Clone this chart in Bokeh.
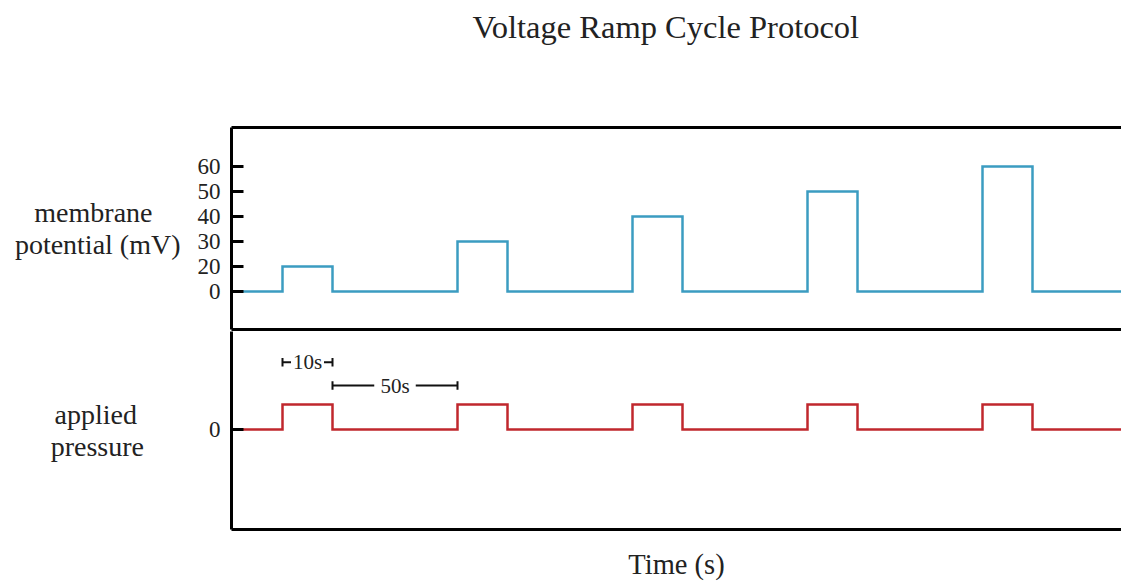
from bokeh.plotting import figure
from bokeh.models import Label, LinearAxis, FixedTicker, Range1d
from bokeh.layouts import column
from bokeh.embed import file_html
from bokeh.resources import INLINE

# ---------------- data (schematic time units) ----------
pulse_start = [10, 45, 80, 115, 150]
pulse_end = [20, 55, 90, 125, 160]
voltage_mV = [20, 30, 40, 50, 60]          # membrane potential step heights
pressure_level = [1, 1, 1, 1, 1]           # applied pressure step (arbitrary units)
t_start, t_end = -0.2, 177.8

# broken (schematic) potential axis: 0, 20, 30, 40, 50, 60 evenly spaced
v_tick_values = [0, 20, 30, 40, 50, 60]

SERIF = "Liberation Serif"
BLUE = "#3b9cc1"
RED = "#c0272d"
TXT = "#222222"
NB = "\u00a0"

def v_pos(v):
    return 0.0 if v == 0 else (v - 10) / 10.0

def step_series(starts, ends, levels, base):
    xs, ys = [t_start], [base]
    for s, e, l in zip(starts, ends, levels):
        xs += [s, s, e, e]
        ys += [base, l, l, base]
    xs.append(t_end)
    ys.append(base)
    return xs, ys

def bare_axis(ax):
    ax.ticker = FixedTicker(ticks=[])
    ax.major_tick_in = 0
    ax.major_tick_out = 0
    ax.minor_tick_in = 0
    ax.minor_tick_out = 0
    ax.major_label_standoff = 0
    ax.axis_line_width = 3
    ax.axis_line_color = "black"

def left_axis(ax, ticks, labels, title, standoff):
    ax.ticker = FixedTicker(ticks=ticks)
    ax.major_label_overrides = dict(zip(ticks, labels))
    ax.major_tick_in = 12
    ax.major_tick_out = 0
    ax.minor_tick_in = 0
    ax.minor_tick_out = 0
    ax.major_tick_line_width = 3
    ax.axis_line_width = 3
    ax.axis_line_color = "black"
    ax.major_label_text_font = SERIF
    ax.major_label_text_font_size = "23px"
    ax.major_label_text_color = TXT
    ax.major_label_standoff = 11
    ax.axis_label = title
    ax.axis_label_orientation = "horizontal"
    ax.axis_label_text_font = SERIF
    ax.axis_label_text_font_size = "28px"
    ax.axis_label_text_font_style = "normal"
    ax.axis_label_text_color = TXT
    ax.axis_label_text_line_height = 1.05
    ax.axis_label_standoff = standoff

W = 1121
common = dict(width=W, output_backend="svg", toolbar_location=None,
              x_range=Range1d(t_start, t_end), min_border_left=231,
              min_border_right=0, outline_line_color=None,
              background_fill_color="white", border_fill_color="white")

# ---------------- title strip ----------------
head = figure(height=60, y_range=Range1d(0, 1), min_border_top=0,
              min_border_bottom=0, **common)
head.axis.visible = False
head.xgrid.visible = False
head.ygrid.visible = False
head.title.text = "Voltage Ramp Cycle Protocol"
head.title.align = "left"
head.title.offset = 241
head.title.standoff = 12
head.title.text_font = SERIF
head.title.text_font_size = "32.5px"
head.title.text_font_style = "normal"
head.title.text_color = TXT

# ---------------- top panel: membrane potential ----------------
top = figure(height=271, y_range=Range1d(-1.52, 6.56), min_border_top=67,
             min_border_bottom=2, **common)
top.xgrid.visible = False
top.ygrid.visible = False
bare_axis(top.xaxis[0])
top_border = LinearAxis()
bare_axis(top_border)
top.add_layout(top_border, "above")
left_axis(top.yaxis[0], [v_pos(v) for v in v_tick_values],
          [str(v) for v in v_tick_values],
          "membrane" + NB * 4 + "\npotential (mV)", 14)

vx, vy = step_series(pulse_start, pulse_end, [v_pos(v) for v in voltage_mV], 0.0)
top.line(vx, vy, line_color=BLUE, line_width=2.5, line_join="miter")

# ---------------- bottom panel: applied pressure ----------------
bot = figure(height=252, y_range=Range1d(-4.0, 3.92), min_border_top=0,
             min_border_bottom=54, **common)
bot.xgrid.visible = False
bot.ygrid.visible = False
bare_axis(bot.xaxis[0])
bot.xaxis[0].axis_label = "Time (s)"
bot.xaxis[0].axis_label_text_font = SERIF
bot.xaxis[0].axis_label_text_font_size = "28.5px"
bot.xaxis[0].axis_label_text_font_style = "normal"
bot.xaxis[0].axis_label_text_color = TXT
bot.xaxis[0].axis_label_standoff = 19
left_axis(bot.yaxis[0], [0], ["0"], "applied" + NB + "\npressure", 62)

px_, py_ = step_series(pulse_start, pulse_end, pressure_level, 0.0)
bot.line(px_, py_, line_color=RED, line_width=2.5, line_join="miter")

# duration brackets
def bracket(x0, x1, y, text, half_gap):
    mid = (x0 + x1) / 2.0
    h = 0.17
    bot.segment(x0=[x0, mid + half_gap, x0, x1], y0=[y, y, y - h, y - h],
                x1=[mid - half_gap, x1, x0, x1], y1=[y, y, y + h, y + h],
                line_color="#111111", line_width=2)
    bot.add_layout(Label(x=mid, y=y, text=text, text_align="center",
                         text_baseline="middle", text_font=SERIF,
                         text_font_size="21px", text_color=TXT))

bracket(pulse_start[0], pulse_end[0], 2.69, "10s", 3.3)
bracket(pulse_end[0], pulse_start[1], 1.76, "50s", 4.15)

layout = column(head, top, bot, spacing=0)
open("out.html", "w").write(file_html(layout, INLINE))
